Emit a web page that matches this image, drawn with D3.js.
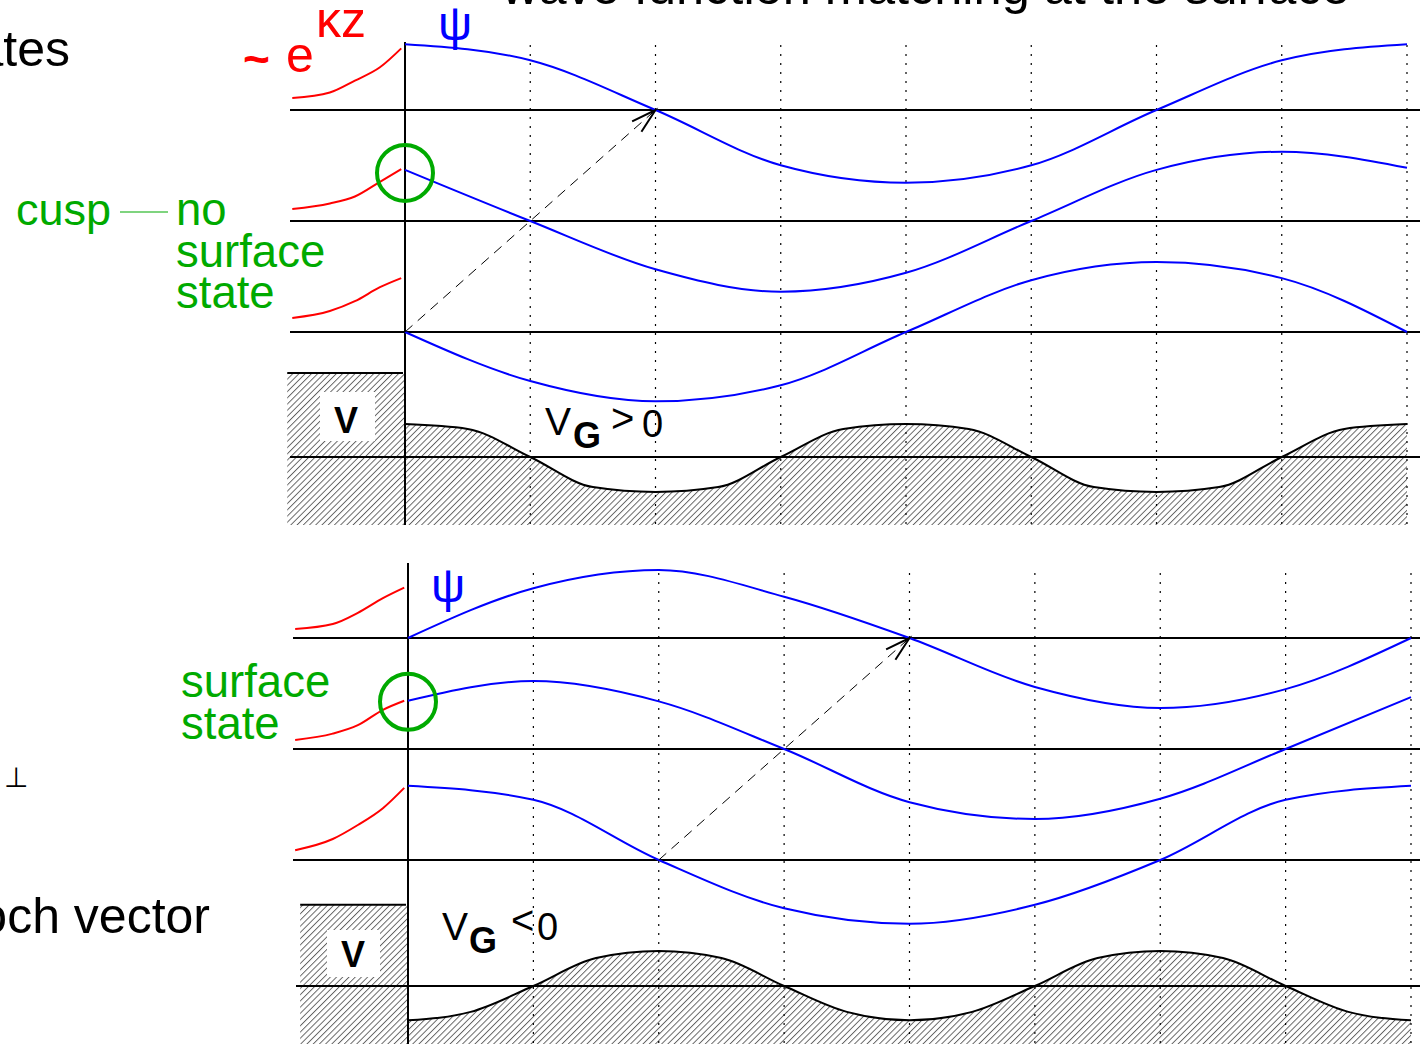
<!DOCTYPE html>
<html><head><meta charset="utf-8">
<script src="https://cdn.jsdelivr.net/npm/d3@7"></script>
<style>
body{margin:0;background:#fff;overflow:hidden}
svg{display:block}
text{font-family:"Liberation Sans",Arial,sans-serif}
</style></head>
<body><svg id="c" width="1420" height="1044"></svg>
<script>
// ---------- data ----------
// lattice positions (dotted lines), in units of the lattice constant
const lattice = [0, 1, 2, 3, 4, 5, 6, 7, 8];
const potentialU = [0, 0.5, 1, 1.5, 2, 2.5, 3, 3.5, 4, 4.5, 5, 5.5, 6, 6.5, 7, 7.5, 8];
const decayZ = [-0.9, -0.6, -0.4, -0.2, -0.03];

// upper panel (V_G > 0): crystal wave functions, relative amplitudes
const topPsi1 = [0.94, 0.71, 0, -0.79, -1.04, -0.79, 0, 0.71, 0.94];
const topPsi2 = [0.73, 0, -0.69, -1.01, -0.74, 0, 0.73, 0.99, 0.76];
const topPsi3 = [0, -0.70, -0.99, -0.76, 0, 0.74, 1.0, 0.77, 0];
// vacuum decays ~ e^{kz}
const topDecay1 = [0.17, 0.25, 0.42, 0.61, 0.88];
const topDecay2 = [0.17, 0.25, 0.35, 0.56, 0.74];
const topDecay3 = [0.20, 0.30, 0.44, 0.64, 0.77];
// crystal potential
const topPot = [0.47, 0.40, 0, -0.43, -0.50, -0.43, 0, 0.40, 0.47, 0.40, 0, -0.43, -0.50, -0.43, 0, 0.40, 0.47];
const topBarrier = 1.2;

// lower panel (V_G < 0)
const botPsi1 = [0, 0.71, 0.97, 0.59, 0, -0.70, -1.0, -0.73, 0];
const botPsi2 = [0.69, 0.97, 0.68, 0, -0.76, -1.0, -0.71, 0, 0.74];
const botPsi3 = [1.06, 0.86, 0, -0.69, -0.91, -0.64, 0, 0.86, 1.06];
const botDecay1 = [0.13, 0.20, 0.36, 0.57, 0.72];
const botDecay2 = [0.13, 0.22, 0.34, 0.56, 0.69];
const botDecay3 = [0.14, 0.30, 0.50, 0.74, 1.03];
const botPot = [-0.49, -0.37, 0, 0.40, 0.50, 0.40, 0, -0.37, -0.49, -0.37, 0, 0.40, 0.50, 0.40, 0, -0.37, -0.49];
const botBarrier = 1.16;

// texts
const titleText = "wave function matching at the surface";
const topLeftText = "surface states";
const blochText = "Bloch vector";
const perpText = "\u22A5";
const cuspText = "cusp";
const noSSLines = ["no", "surface", "state"];
const ssLines = ["surface", "state"];
const psiText = "\u03C8";
const decayText = ["~", "e", "\u03BAz"];

// ---------- drawing ----------
const svg = d3.select("#c");
const BLUE = "#0000ff", RED = "#ff0000", GREEN = "#00aa00";
const AMP = 70;

const defs = svg.append("defs");
defs.append("pattern").attr("id", "hatch").attr("patternUnits", "userSpaceOnUse")
  .attr("width", 4.4).attr("height", 4.4).attr("patternTransform", "rotate(45)")
  .append("line").attr("x1", 0.5).attr("y1", -1).attr("x2", 0.5).attr("y2", 6)
  .attr("stroke", "#444").attr("stroke-width", 0.8);
defs.append("marker").attr("id", "arr").attr("markerUnits", "userSpaceOnUse")
  .attr("markerWidth", 60).attr("markerHeight", 60).attr("refX", 30).attr("refY", 30)
  .attr("orient", "auto")
  .append("path").attr("d", "M5,23 L30,30 L5,37").attr("fill", "none")
  .attr("stroke", "#000").attr("stroke-width", 2);

const panels = [
  { x0: 405, x1: 1407, axisTop: 42, bottom: 525, lineStart: 290, potStart: 290,
    bases: [110, 221, 332], potBase: 457, barrierLeft: -0.94,
    psi: [topPsi1, topPsi2, topPsi3], decay: [topDecay1, topDecay2, topDecay3],
    pot: topPot, barrier: topBarrier, circle: 1, arrow: [[0, 2], [2, 0]],
    vbox: [320, 392, 55, 49], vtext: [346, 433],
    vg: { V: [545, 435], G: [573, 448], s: [611, 432], s2: [642, 437], sign: ">" },
    psiLabel: [455, 40], dotTop: 45 },
  { x0: 408, x1: 1411, axisTop: 563, bottom: 1044, lineStart: 293, potStart: 296,
    bases: [638, 749, 860], potBase: 986, barrierLeft: -0.86,
    psi: [botPsi1, botPsi2, botPsi3], decay: [botDecay1, botDecay2, botDecay3],
    pot: botPot, barrier: botBarrier, circle: 1, arrow: [[2, 2], [4, 0]],
    vbox: [327, 930, 53, 47], vtext: [353, 967],
    vg: { V: [442, 940], G: [469, 953], s: [511, 934], s2: [537, 940], sign: "<" },
    psiLabel: [448, 602], dotTop: 573 }
];

panels.forEach(p => {
  const x = d3.scaleLinear().domain([0, 8]).range([p.x0, p.x1]);
  const yAt = b => d3.scaleLinear().domain([0, 1]).range([b, b - AMP]);
  const yPot = yAt(p.potBase);

  // hatched potential
  const potData = potentialU.map((u, i) => ({ u, v: p.pot[i] }));
  svg.append("path").datum(potData)
    .attr("d", d3.area().x(d => x(d.u)).y0(p.bottom).y1(d => yPot(d.v)).curve(d3.curveMonotoneX))
    .attr("fill", "url(#hatch)");
  svg.append("rect").attr("x", x(p.barrierLeft)).attr("y", yPot(p.barrier))
    .attr("width", x(0) - x(p.barrierLeft)).attr("height", p.bottom - yPot(p.barrier))
    .attr("fill", "url(#hatch)");
  svg.append("line").attr("x1", x(p.barrierLeft)).attr("x2", x(0) - 2)
    .attr("y1", yPot(p.barrier)).attr("y2", yPot(p.barrier))
    .attr("stroke", "#000").attr("stroke-width", 2);
  // white V box
  svg.append("rect").attr("x", p.vbox[0]).attr("y", p.vbox[1]).attr("width", p.vbox[2]).attr("height", p.vbox[3]).attr("fill", "#fff");
  svg.append("text").attr("x", p.vtext[0]).attr("y", p.vtext[1]).attr("text-anchor", "middle")
    .attr("font-size", 36).attr("font-weight", "bold").text("V");

  // baselines
  p.bases.forEach(b => svg.append("line").attr("x1", p.lineStart).attr("x2", 1420).attr("y1", b).attr("y2", b)
    .attr("stroke", "#000").attr("stroke-width", 2));
  svg.append("line").attr("x1", p.potStart).attr("x2", 1420).attr("y1", p.potBase).attr("y2", p.potBase)
    .attr("stroke", "#000").attr("stroke-width", 2);

  // dotted lattice lines
  lattice.slice(1).forEach(u => svg.append("line").attr("x1", x(u)).attr("x2", x(u))
    .attr("y1", p.dotTop).attr("y2", p.bottom).attr("stroke", "#000").attr("stroke-width", 1.2)
    .attr("stroke-dasharray", "2,7"));

  // potential curve
  svg.append("path").datum(potData)
    .attr("d", d3.line().x(d => x(d.u)).y(d => yPot(d.v)).curve(d3.curveMonotoneX))
    .attr("fill", "none").attr("stroke", "#000").attr("stroke-width", 2);

  // surface axis
  svg.append("line").attr("x1", p.x0).attr("x2", p.x0).attr("y1", p.axisTop).attr("y2", p.bottom)
    .attr("stroke", "#000").attr("stroke-width", 2);

  // wave functions
  p.psi.forEach((vals, k) => {
    const y = yAt(p.bases[k]);
    svg.append("path").datum(lattice.map((u, i) => ({ u, v: vals[i] })))
      .attr("d", d3.line().x(d => x(d.u)).y(d => y(d.v)).curve(d3.curveMonotoneX))
      .attr("fill", "none").attr("stroke", BLUE).attr("stroke-width", 2);
    svg.append("path").datum(decayZ.map((z, i) => ({ u: z, v: p.decay[k][i] })))
      .attr("d", d3.line().x(d => x(d.u)).y(d => y(d.v)).curve(d3.curveMonotoneX))
      .attr("fill", "none").attr("stroke", RED).attr("stroke-width", 2);
  });

  // matching circle
  const yc = yAt(p.bases[p.circle]);
  svg.append("circle").attr("cx", x(0)).attr("cy", yc(p.psi[p.circle][0]) + (p === panels[0] ? 3 : 1)).attr("r", 28)
    .attr("fill", "none").attr("stroke", GREEN).attr("stroke-width", 4);

  // dashed arrow (translation by two lattice constants)
  const [[ua, ka], [ub, kb]] = p.arrow;
  svg.append("line").attr("x1", x(ua)).attr("y1", p.bases[ka]).attr("x2", x(ub)).attr("y2", p.bases[kb])
    .attr("stroke", "#000").attr("stroke-width", 1).attr("stroke-dasharray", "10,7")
    .attr("marker-end", "url(#arr)");

  // psi label
  svg.append("text").attr("x", p.psiLabel[0]).attr("y", p.psiLabel[1]).attr("text-anchor", "middle")
    .attr("font-family", "Liberation Serif, serif").attr("font-size", 48).attr("fill", BLUE).text(psiText);

  // V_G label
  svg.append("text").attr("x", p.vg.V[0]).attr("y", p.vg.V[1]).attr("font-size", 39).text("V");
  svg.append("text").attr("x", p.vg.G[0]).attr("y", p.vg.G[1]).attr("font-size", 36).attr("font-weight", "bold").text("G");
  svg.append("text").attr("x", p.vg.s[0]).attr("y", p.vg.s[1]).attr("font-size", 40).text(p.vg.sign);
  svg.append("text").attr("x", p.vg.s2[0]).attr("y", p.vg.s2[1]).attr("font-size", 38).text("0");
});

// title and side texts
svg.append("text").attr("x", 502).attr("y", 4).attr("font-size", 50.5).text(titleText);
svg.append("text").attr("x", 70).attr("y", 66).attr("text-anchor", "end").attr("font-size", 50).text(topLeftText);
svg.append("text").attr("x", 210).attr("y", 933).attr("text-anchor", "end").attr("font-size", 50).text(blochText);
svg.append("text").attr("x", 4).attr("y", 787).attr("font-size", 28).text(perpText);

// ~ e^{kz}
svg.append("text").attr("x", 243).attr("y", 75).attr("font-size", 46).attr("font-weight", "bold").attr("fill", RED).text(decayText[0]);
svg.append("text").attr("x", 286).attr("y", 72).attr("font-size", 50).attr("fill", RED).text(decayText[1]);
svg.append("text").attr("x", 316).attr("y", 37).attr("font-size", 50).attr("fill", RED).text(decayText[2]);

// green annotations
svg.append("text").attr("x", 16).attr("y", 225).attr("font-size", 45).attr("fill", GREEN).text(cuspText);
svg.append("line").attr("x1", 120).attr("x2", 168).attr("y1", 212).attr("y2", 212).attr("stroke", GREEN).attr("stroke-width", 1.2);
noSSLines.forEach((t, i) => svg.append("text").attr("x", 176).attr("y", 225 + i * 41.5)
  .attr("font-size", 45.5).attr("fill", GREEN).text(t));
ssLines.forEach((t, i) => svg.append("text").attr("x", 181).attr("y", 697 + i * 41.5)
  .attr("font-size", 45.5).attr("fill", GREEN).text(t));
</script></body></html>
